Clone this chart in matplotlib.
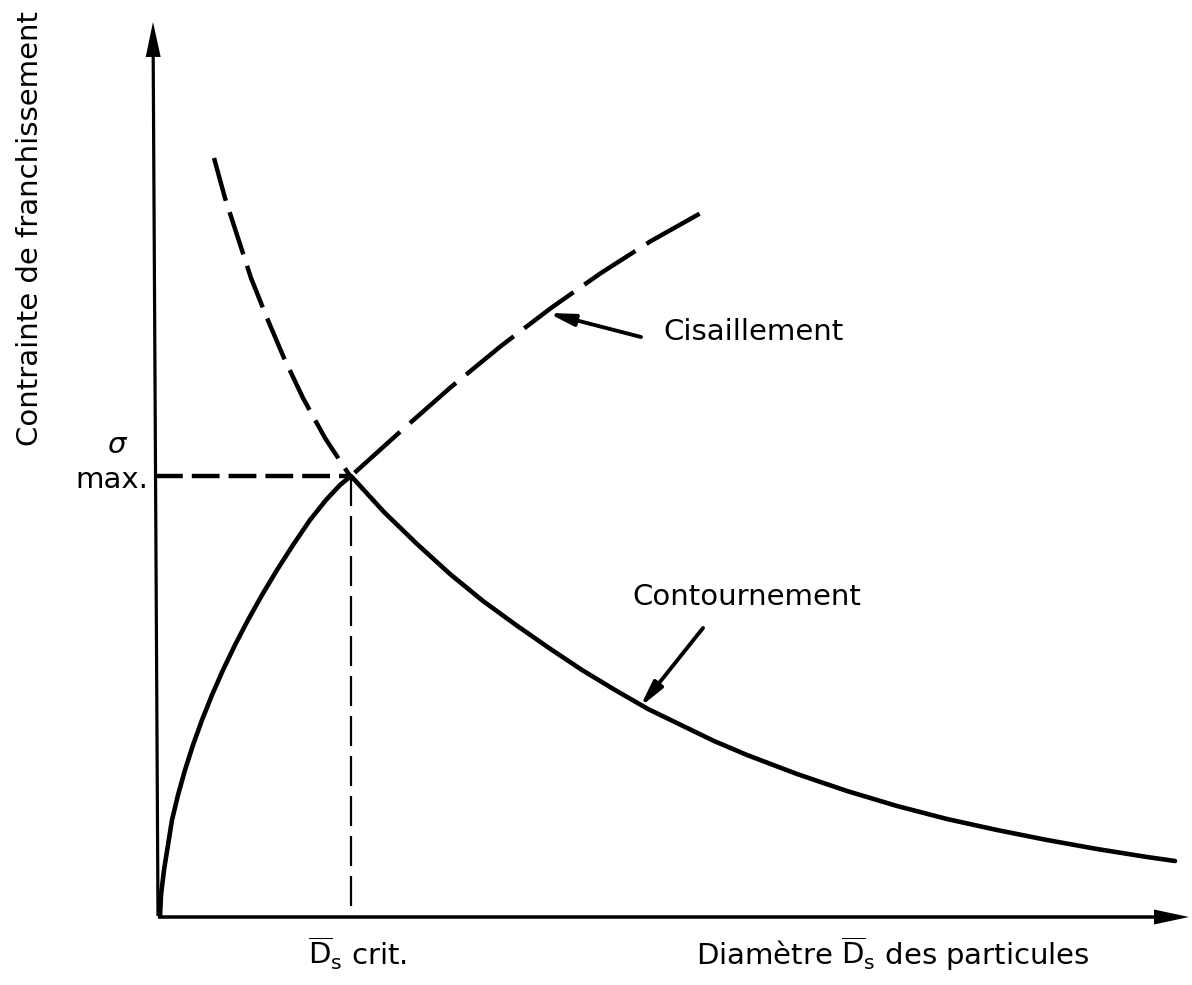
import matplotlib
matplotlib.use("Agg")
import matplotlib.pyplot as plt

plt.rcParams["font.family"] = ["DejaVu Sans"]
plt.rcParams["mathtext.fontset"] = "dejavusans"
plt.rcParams["lines.scale_dashes"] = False

# Contournement (bypass) stress: rises from the origin to the maximum, then decays
contour_x = [0.02, 0.03, 0.06, 0.10, 0.14, 0.20, 0.27, 0.35, 0.44, 0.54, 0.65,
             0.77, 0.90, 1.04, 1.19, 1.35, 1.52, 1.68, 1.82, 1.93,
             2.26, 2.59, 2.92, 3.25, 3.58, 3.91, 4.24, 4.57, 4.90, 5.23, 5.56,
             5.89, 6.39, 6.89, 7.39, 7.89, 8.39, 8.89, 9.39, 9.89, 10.17]
contour_y = [0.00, 0.21, 0.46, 0.71, 0.96, 1.21, 1.46, 1.71, 1.96, 2.21, 2.46,
             2.71, 2.96, 3.21, 3.46, 3.71, 3.96, 4.16, 4.31, 4.40,
             4.04, 3.72, 3.42, 3.15, 2.91, 2.68, 2.46, 2.26, 2.07, 1.91, 1.75,
             1.61, 1.42, 1.25, 1.10, 0.97, 0.86, 0.76, 0.67, 0.59, 0.55]

# Cisaillement (shear) stress, left branch drawn from the top down to the maximum
shear_left_x = [0.56, 0.67, 0.80, 0.93, 1.09, 1.26, 1.45, 1.67, 1.92]
shear_left_y = [7.58, 7.18, 6.78, 6.38, 5.98, 5.58, 5.18, 4.78, 4.40]

# Cisaillement, right branch continuing upward from the maximum
shear_right_x = [1.93, 2.43, 2.93, 3.43, 3.93, 4.43, 4.93, 5.50]
shear_right_y = [4.40, 4.85, 5.29, 5.70, 6.08, 6.43, 6.75, 7.07]

# Critical point (D_s crit., sigma max.)
crit_x = 1.93
crit_y = 4.40

fig = plt.figure(figsize=(11.92, 9.85), dpi=100)
ax = fig.add_axes([0, 0, 1, 1])
ax.set_xlim(-1.58, 10.34)
ax.set_ylim(-0.69, 9.16)
ax.axis("off")

# Axes drawn as arrows
ax.arrow(0.0, 0.0, -0.05, 8.94, width=0.032, head_width=0.15, head_length=0.35,
         length_includes_head=True, fc="black", ec="none", lw=0)
ax.arrow(0.0, -0.01, 10.31, 0.0, width=0.035, head_width=0.15, head_length=0.35,
         length_includes_head=True, fc="black", ec="none", lw=0)

# Curves
ax.plot(contour_x, contour_y, color="black", lw=3.3, solid_capstyle="round",
        solid_joinstyle="round")
ax.plot(shear_left_x, shear_left_y, color="black", lw=3.2,
        linestyle=(0, (32, 8.6)), dash_capstyle="butt", dash_joinstyle="round")
ax.plot(shear_right_x, shear_right_y, color="black", lw=3.2,
        linestyle=(50, (44, 9.5)), dash_capstyle="butt", dash_joinstyle="round")

# Reference lines to the critical point
ax.plot([-0.03, crit_x], [crit_y, crit_y], color="black", lw=3.2,
        linestyle=(0, (20, 6.5)), dash_capstyle="butt")
ax.plot([crit_x, crit_x], [crit_y, 0.0], color="black", lw=1.6,
        linestyle=(0, (21.6, 7.2)), dash_capstyle="butt")

# Curve labels with pointer arrows
fs = 21
arrow_style = dict(arrowstyle="-|>,head_length=0.75,head_width=0.17",
                   lw=2.8, color="black", mutation_scale=20, shrinkA=0, shrinkB=0)
ax.text(5.05, 5.76, "Cisaillement", fontsize=fs, ha="left", va="baseline")
ax.annotate("", xy=(3.90, 6.03), xytext=(4.83, 5.79), arrowprops=arrow_style)
ax.text(4.74, 3.11, "Contournement", fontsize=fs, ha="left", va="baseline")
ax.annotate("", xy=(4.82, 2.09), xytext=(5.45, 2.88), arrowprops=arrow_style)

# Axis labels
ax.text(-1.28, 6.87, "Contrainte de franchissement", fontsize=fs, rotation=90,
        ha="center", va="center")
ax.text(-0.42, 4.63, "σ", fontsize=fs, fontstyle="italic", ha="center", va="baseline")
ax.text(-0.10, 4.28, "max.", fontsize=fs, ha="right", va="baseline")
ax.text(crit_x + 0.07, -0.49, r"$\overline{\mathrm{D}}_{\mathrm{s}}$ crit.", fontsize=fs,
        ha="center", va="baseline")
ax.text(7.35, -0.49, r"Diamètre $\overline{\mathrm{D}}_{\mathrm{s}}$ des particules",
        fontsize=fs, ha="center", va="baseline")

fig.savefig("out.png", dpi=100, facecolor="white")
